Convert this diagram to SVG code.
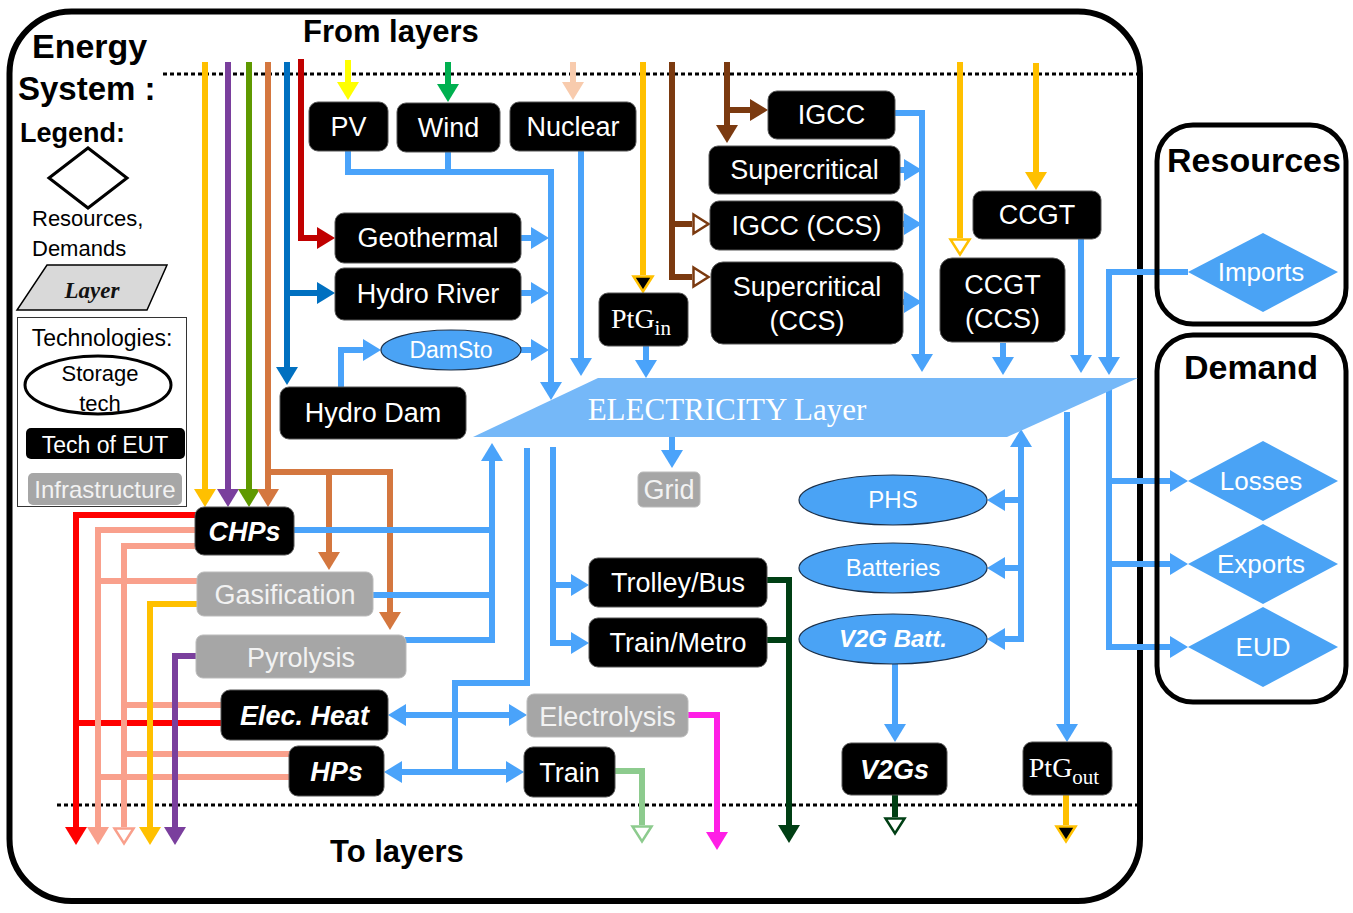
<svg xmlns="http://www.w3.org/2000/svg" width="1353" height="913" viewBox="0 0 1353 913">
<style>
text{font-family:"Liberation Sans",Arial,sans-serif;}
.t{fill:#fff;font-size:27px;text-anchor:middle;}
.tb{fill:#fff;font-size:27px;text-anchor:middle;font-weight:bold;font-style:italic;}
.ts{fill:#fff;font-family:"Liberation Serif","Times New Roman",serif;font-size:28px;text-anchor:middle;}
.h{fill:#000;font-weight:bold;}
.eut{fill:#000;stroke:#555;stroke-width:1;}
.inf{fill:#a6a6a6;stroke:#bbb;stroke-width:1;}
.sto{fill:#4aa3f5;stroke:#1b2f48;stroke-width:1.2;}
.dia{fill:#4aa3f5;}
.c{fill:none;stroke-width:6;stroke-linejoin:miter;}
.blue{stroke:#4aa3fa;}
.dblue{stroke:#0070c0;}
.dred{stroke:#c00000;}
.red{stroke:#ff0000;}
.sal{stroke:#f9a08c;}
.org{stroke:#ffc000;}
.pur{stroke:#7a3f9d;}
.olv{stroke:#5f9900;}
.cop{stroke:#d4773f;}
.yel{stroke:#ffff00;}
.grn{stroke:#00b050;}
.pnk{stroke:#f8cbad;}
.brn{stroke:#7b3a10;}
.mag{stroke:#ff1ee6;}
.lgr{stroke:#8dcb8e;}
.dgr{stroke:#003f14;}
.dot{fill:none;stroke:#000;stroke-width:3;stroke-dasharray:4 3;}
</style>
<defs>
<marker id="m-blue" markerUnits="userSpaceOnUse" markerWidth="18" markerHeight="22" refX="0" refY="11" orient="auto-start-reverse" overflow="visible"><path d="M0,0 L18,11 L0,22 z" fill="#4aa3fa"/></marker>
<marker id="m-dblue" markerUnits="userSpaceOnUse" markerWidth="18" markerHeight="22" refX="0" refY="11" orient="auto" overflow="visible"><path d="M0,0 L18,11 L0,22 z" fill="#0070c0"/></marker>
<marker id="m-dred" markerUnits="userSpaceOnUse" markerWidth="18" markerHeight="22" refX="0" refY="11" orient="auto" overflow="visible"><path d="M0,0 L18,11 L0,22 z" fill="#c00000"/></marker>
<marker id="m-red" markerUnits="userSpaceOnUse" markerWidth="18" markerHeight="22" refX="0" refY="11" orient="auto" overflow="visible"><path d="M0,0 L18,11 L0,22 z" fill="#ff0000"/></marker>
<marker id="m-sal" markerUnits="userSpaceOnUse" markerWidth="18" markerHeight="22" refX="0" refY="11" orient="auto" overflow="visible"><path d="M0,0 L18,11 L0,22 z" fill="#f9a08c"/></marker>
<marker id="m-salo" markerUnits="userSpaceOnUse" markerWidth="18" markerHeight="22" refX="0" refY="11" orient="auto" overflow="visible"><path d="M1.5,1.5 L16.5,11 L1.5,20.5 z" fill="#fff" stroke="#f9a08c" stroke-width="2.5"/></marker>
<marker id="m-org" markerUnits="userSpaceOnUse" markerWidth="18" markerHeight="22" refX="0" refY="11" orient="auto" overflow="visible"><path d="M0,0 L18,11 L0,22 z" fill="#ffc000"/></marker>
<marker id="m-orgo" markerUnits="userSpaceOnUse" markerWidth="18" markerHeight="22" refX="0" refY="11" orient="auto" overflow="visible"><path d="M1.5,1.5 L16.5,11 L1.5,20.5 z" fill="#fff" stroke="#ffc000" stroke-width="2.5"/></marker>
<marker id="m-orgb" markerUnits="userSpaceOnUse" markerWidth="18" markerHeight="22" refX="0" refY="11" orient="auto" overflow="visible"><path d="M1.5,1.5 L16.5,11 L1.5,20.5 z" fill="#000" stroke="#ffc000" stroke-width="2.5"/></marker>
<marker id="m-pur" markerUnits="userSpaceOnUse" markerWidth="18" markerHeight="22" refX="0" refY="11" orient="auto" overflow="visible"><path d="M0,0 L18,11 L0,22 z" fill="#7a3f9d"/></marker>
<marker id="m-olv" markerUnits="userSpaceOnUse" markerWidth="18" markerHeight="22" refX="0" refY="11" orient="auto" overflow="visible"><path d="M0,0 L18,11 L0,22 z" fill="#5f9900"/></marker>
<marker id="m-cop" markerUnits="userSpaceOnUse" markerWidth="18" markerHeight="22" refX="0" refY="11" orient="auto" overflow="visible"><path d="M0,0 L18,11 L0,22 z" fill="#d4773f"/></marker>
<marker id="m-yel" markerUnits="userSpaceOnUse" markerWidth="18" markerHeight="22" refX="0" refY="11" orient="auto" overflow="visible"><path d="M0,0 L18,11 L0,22 z" fill="#ffff00"/></marker>
<marker id="m-grn" markerUnits="userSpaceOnUse" markerWidth="18" markerHeight="22" refX="0" refY="11" orient="auto" overflow="visible"><path d="M0,0 L18,11 L0,22 z" fill="#00b050"/></marker>
<marker id="m-pnk" markerUnits="userSpaceOnUse" markerWidth="18" markerHeight="22" refX="0" refY="11" orient="auto" overflow="visible"><path d="M0,0 L18,11 L0,22 z" fill="#f8cbad"/></marker>
<marker id="m-brn" markerUnits="userSpaceOnUse" markerWidth="18" markerHeight="22" refX="0" refY="11" orient="auto" overflow="visible"><path d="M0,0 L18,11 L0,22 z" fill="#7b3a10"/></marker>
<marker id="m-brno" markerUnits="userSpaceOnUse" markerWidth="18" markerHeight="22" refX="0" refY="11" orient="auto" overflow="visible"><path d="M1.5,1.5 L16.5,11 L1.5,20.5 z" fill="#fff" stroke="#7b3a10" stroke-width="2.5"/></marker>
<marker id="m-mag" markerUnits="userSpaceOnUse" markerWidth="18" markerHeight="22" refX="0" refY="11" orient="auto" overflow="visible"><path d="M0,0 L18,11 L0,22 z" fill="#ff1ee6"/></marker>
<marker id="m-lgro" markerUnits="userSpaceOnUse" markerWidth="18" markerHeight="22" refX="0" refY="11" orient="auto" overflow="visible"><path d="M1.5,1.5 L16.5,11 L1.5,20.5 z" fill="#fff" stroke="#8dcb8e" stroke-width="2.5"/></marker>
<marker id="m-dgr" markerUnits="userSpaceOnUse" markerWidth="18" markerHeight="22" refX="0" refY="11" orient="auto" overflow="visible"><path d="M0,0 L18,11 L0,22 z" fill="#003f14"/></marker>
<marker id="m-dgro" markerUnits="userSpaceOnUse" markerWidth="18" markerHeight="22" refX="0" refY="11" orient="auto" overflow="visible"><path d="M1.5,1.5 L16.5,11 L1.5,20.5 z" fill="#fff" stroke="#003f14" stroke-width="2.5"/></marker>
</defs>
<rect width="1353" height="913" fill="#fff"/>

<g id="frame">
<rect x="9.5" y="11.5" width="1130.5" height="889.5" rx="62" fill="none" stroke="#000" stroke-width="6"/>
<line class="dot" x1="163" y1="74" x2="1138" y2="74"/>
<line class="dot" x1="57" y1="805" x2="1138" y2="805"/>
<text class="h" x="32" y="58" font-size="34">Energy</text>
<text class="h" x="18" y="100" font-size="33">System :</text>
<text class="h" x="303" y="42" font-size="31">From layers</text>
<text class="h" x="330" y="862" font-size="31">To layers</text>
</g>

<g id="legend">
<text class="h" x="20" y="142" font-size="27">Legend:</text>
<polygon points="49,178 88,148 127,178 88,208" fill="#fff" stroke="#000" stroke-width="3"/>
<text x="32" y="226" font-size="22" fill="#000">Resources,</text>
<text x="32" y="256" font-size="22" fill="#000">Demands</text>
<polygon points="47,265 167,265 147,310 17,310" fill="#d9d9d9" stroke="#000" stroke-width="1.5"/>
<text x="92" y="298" font-size="23" font-weight="bold" font-style="italic" text-anchor="middle" fill="#111" style="font-family:'Liberation Serif','Times New Roman',serif">Layer</text>
<rect x="17.5" y="317.5" width="169" height="189" fill="#fff" stroke="#333" stroke-width="1"/>
<text x="102" y="346" font-size="23" text-anchor="middle" fill="#000">Technologies:</text>
<ellipse cx="98" cy="385" rx="73" ry="29" fill="#fff" stroke="#000" stroke-width="3"/>
<text x="100" y="381" font-size="22" text-anchor="middle" fill="#000">Storage</text>
<text x="100" y="411" font-size="22" text-anchor="middle" fill="#000">tech</text>
<rect x="26" y="428" width="159" height="31" rx="5" fill="#000"/>
<text x="105" y="453" font-size="23" text-anchor="middle" fill="#fff">Tech of EUT</text>
<rect x="28" y="473" width="154" height="32" rx="5" fill="#a6a6a6"/>
<text x="105" y="498" font-size="24" text-anchor="middle" fill="#f2f2f2">Infrastructure</text>
</g>

<g id="connectors">
<path class="c org" d="M205,62 V489" marker-end="url(#m-org)"/>
<path class="c pur" d="M228,62 V489" marker-end="url(#m-pur)"/>
<path class="c olv" d="M249,62 V489" marker-end="url(#m-olv)"/>
<path class="c cop" d="M268,62 V489" marker-end="url(#m-cop)"/>
<path class="c cop" d="M265,472 H390 V612" marker-end="url(#m-cop)"/>
<path class="c cop" d="M329,472 V552" marker-end="url(#m-cop)"/>
<path class="c dblue" d="M287,62 V367" marker-end="url(#m-dblue)"/>
<path class="c dblue" d="M287,293 H317" marker-end="url(#m-dblue)"/>
<path class="c dred" d="M301,59 V238 H317" marker-end="url(#m-dred)"/>
<path class="c yel" d="M348,60 V82" marker-end="url(#m-yel)"/>
<path class="c grn" d="M448,62 V84" marker-end="url(#m-grn)"/>
<path class="c pnk" d="M573,62 V82" marker-end="url(#m-pnk)"/>
<path class="c org" d="M643,62 V275" marker-end="url(#m-orgb)"/>
<path class="c brn" d="M672,62 V277 H692" marker-end="url(#m-brno)"/>
<path class="c brn" d="M672,224 H692" marker-end="url(#m-brno)"/>
<path class="c brn" d="M727,62 V125" marker-end="url(#m-brn)"/>
<path class="c brn" d="M727,110 H750" marker-end="url(#m-brn)"/>
<path class="c org" d="M960,62 V238" marker-end="url(#m-orgo)"/>
<path class="c org" d="M1036,63 V172" marker-end="url(#m-org)"/>
<path class="c blue" d="M348,151 V172 H551 V382" marker-end="url(#m-blue)"/>
<path class="c blue" d="M448,152 V172"/>
<path class="c blue" d="M520,238 H531" marker-end="url(#m-blue)"/>
<path class="c blue" d="M520,293 H531" marker-end="url(#m-blue)"/>
<path class="c blue" d="M521,350 H531" marker-end="url(#m-blue)"/>
<path class="c blue" d="M341,387 V350 H363" marker-end="url(#m-blue)"/>
<path class="c blue" d="M581,151 V358" marker-end="url(#m-blue)"/>
<path class="c blue" d="M646,346 V360" marker-end="url(#m-blue)"/>
<path class="c blue" d="M894,113 H922 V354" marker-end="url(#m-blue)"/>
<path class="c blue" d="M899,170 H904" marker-end="url(#m-blue)"/>
<path class="c blue" d="M902,224 H904" marker-end="url(#m-blue)"/>
<path class="c blue" d="M902,302 H904" marker-end="url(#m-blue)"/>
<path class="c blue" d="M1003,343 V357" marker-end="url(#m-blue)"/>
<path class="c blue" d="M1081,239 V355" marker-end="url(#m-blue)"/>
<path class="c blue" d="M1188,272 H1109 V357" marker-end="url(#m-blue)"/>
<path class="c blue" d="M1109,382 V647 H1170" marker-end="url(#m-blue)"/>
<path class="c blue" d="M1109,481 H1170" marker-end="url(#m-blue)"/>
<path class="c blue" d="M1109,564 H1170" marker-end="url(#m-blue)"/>
<path class="c blue" d="M1067,412 V724" marker-end="url(#m-blue)"/>
<path class="c blue" d="M1021,642 V447" marker-end="url(#m-blue)"/>
<path class="c blue" d="M1021,500 H1005" marker-end="url(#m-blue)"/>
<path class="c blue" d="M1021,568 H1005" marker-end="url(#m-blue)"/>
<path class="c blue" d="M1024,639 H1005" marker-end="url(#m-blue)"/>
<path class="c blue" d="M672,437 V450" marker-end="url(#m-blue)"/>
<path class="c blue" d="M492,643 V461" marker-end="url(#m-blue)"/>
<path class="c blue" d="M293,530 H492"/>
<path class="c blue" d="M372,595 H492"/>
<path class="c blue" d="M405,640 H495"/>
<path class="c blue" d="M527,448 V683 H455 V775"/>
<path class="c blue" d="M406,715 H509" marker-start="url(#m-blue)" marker-end="url(#m-blue)"/>
<path class="c blue" d="M402,772 H506" marker-start="url(#m-blue)" marker-end="url(#m-blue)"/>
<path class="c blue" d="M553,447 V643 H571" marker-end="url(#m-blue)"/>
<path class="c blue" d="M553,585 H571" marker-end="url(#m-blue)"/>
<path class="c blue" d="M895,664 V724" marker-end="url(#m-blue)"/>
<path class="c red" d="M197,515 H76 V827" marker-end="url(#m-red)"/>
<path class="c red" d="M223,723 H76"/>
<path class="c sal" d="M197,530 H98 V827" marker-end="url(#m-sal)"/>
<path class="c sal" d="M197,546 H124 V827" marker-end="url(#m-salo)"/>
<path class="c sal" d="M198,581 H98"/>
<path class="c sal" d="M223,705 H124"/>
<path class="c sal" d="M291,754 H124"/>
<path class="c sal" d="M291,777 H98"/>
<path class="c org" d="M199,604 H150 V827" marker-end="url(#m-org)"/>
<path class="c pur" d="M198,656 H175 V827" marker-end="url(#m-pur)"/>
<path class="c mag" d="M687,715 H717 V832" marker-end="url(#m-mag)"/>
<path class="c lgr" d="M614,771 H642 V825" marker-end="url(#m-lgro)"/>
<path class="c dgr" d="M766,580 H789 V825" marker-end="url(#m-dgr)"/>
<path class="c dgr" d="M766,640 H789"/>
<path class="c dgr" d="M895,794 V817" marker-end="url(#m-dgro)"/>
<path class="c org" d="M1066,794 V825" marker-end="url(#m-orgb)"/>
</g>

<g id="electricity-layer">
<polygon points="598,378 1138,378 1007,437 473,437" fill="#75b8f8"/>
<text x="727" y="420" class="ts" style="font-size:31px">ELECTRICITY Layer</text>
</g>

<g id="pv"><rect class="eut" x="309" y="102" width="79" height="49" rx="9"/><text class="t" x="348.5" y="136">PV</text></g>
<g id="wind"><rect class="eut" x="397" y="103" width="103" height="49" rx="9"/><text class="t" x="448.5" y="137">Wind</text></g>
<g id="nuclear"><rect class="eut" x="510" y="102" width="126" height="49" rx="9"/><text class="t" x="573" y="136">Nuclear</text></g>
<g id="geothermal"><rect class="eut" x="335" y="213" width="186" height="50" rx="9"/><text class="t" x="428" y="247">Geothermal</text></g>
<g id="hydro-river"><rect class="eut" x="335" y="268" width="186" height="52" rx="9"/><text class="t" x="428" y="303">Hydro River</text></g>
<g id="damsto"><ellipse class="sto" cx="451" cy="350" rx="70" ry="20"/><text x="451" y="358" font-size="23" fill="#fff" text-anchor="middle">DamSto</text></g>
<g id="hydro-dam"><rect class="eut" x="280" y="387" width="186" height="52" rx="9"/><text class="t" x="373" y="422">Hydro Dam</text></g>
<g id="ptg-in"><rect class="eut" x="599" y="293" width="89" height="53" rx="9"/><text class="ts" x="641" y="328">PtG<tspan font-size="21" dy="7">in</tspan></text></g>
<g id="igcc"><rect class="eut" x="768" y="91" width="127" height="48" rx="9"/><text class="t" x="831.5" y="124">IGCC</text></g>
<g id="supercritical"><rect class="eut" x="709" y="146" width="191" height="48" rx="9"/><text class="t" x="804.5" y="179">Supercritical</text></g>
<g id="igcc-ccs"><rect class="eut" x="710" y="201" width="193" height="49" rx="9"/><text class="t" x="806.5" y="235">IGCC (CCS)</text></g>
<g id="supercritical-ccs"><rect class="eut" x="711" y="262" width="192" height="82" rx="12"/><text class="t" x="807" y="296">Supercritical</text><text class="t" x="807" y="330">(CCS)</text></g>
<g id="ccgt"><rect class="eut" x="973" y="191" width="128" height="48" rx="9"/><text class="t" x="1037" y="224">CCGT</text></g>
<g id="ccgt-ccs"><rect class="eut" x="940" y="258" width="125" height="84" rx="12"/><text class="t" x="1002.5" y="294">CCGT</text><text class="t" x="1002.5" y="328">(CCS)</text></g>
<g id="grid"><rect class="inf" x="638" y="472" width="62" height="35" rx="5"/><text x="669" y="499" font-size="27" fill="#f2f2f2" text-anchor="middle">Grid</text></g>
<g id="phs"><ellipse class="sto" cx="893" cy="500" rx="94" ry="25"/><text x="893" y="508" font-size="24" fill="#fff" text-anchor="middle">PHS</text></g>
<g id="batteries"><ellipse class="sto" cx="893" cy="568" rx="94" ry="25"/><text x="893" y="576" font-size="24" fill="#fff" text-anchor="middle">Batteries</text></g>
<g id="v2g-batt"><ellipse class="sto" cx="893" cy="639" rx="94" ry="25"/><text x="893" y="647" font-size="24" fill="#fff" text-anchor="middle" font-weight="bold" font-style="italic">V2G Batt.</text></g>
<g id="trolley-bus"><rect class="eut" x="589" y="558" width="178" height="49" rx="9"/><text class="t" x="678" y="592">Trolley/Bus</text></g>
<g id="train-metro"><rect class="eut" x="589" y="618" width="178" height="49" rx="9"/><text class="t" x="678" y="652">Train/Metro</text></g>
<g id="v2gs"><rect class="eut" x="842" y="743" width="105" height="52" rx="9"/><text class="tb" x="894.5" y="779">V2Gs</text></g>
<g id="ptg-out"><rect class="eut" x="1023" y="742" width="89" height="53" rx="9"/><text class="ts" x="1064" y="777">PtG<tspan font-size="21" dy="7">out</tspan></text></g>
<g id="chps"><rect class="eut" x="195" y="507" width="99" height="48" rx="9"/><text class="tb" x="244.5" y="541">CHPs</text></g>
<g id="gasification"><rect class="inf" x="197" y="572" width="176" height="44" rx="7"/><text x="285" y="604" font-size="27" fill="#f2f2f2" text-anchor="middle">Gasification</text></g>
<g id="pyrolysis"><rect class="inf" x="196" y="635" width="210" height="43" rx="7"/><text x="301" y="667" font-size="27" fill="#f2f2f2" text-anchor="middle">Pyrolysis</text></g>
<g id="elec-heat"><rect class="eut" x="221" y="690" width="167" height="50" rx="9"/><text class="tb" x="304.5" y="725">Elec. Heat</text></g>
<g id="hps"><rect class="eut" x="289" y="746" width="95" height="50" rx="9"/><text class="tb" x="336.5" y="781">HPs</text></g>
<g id="electrolysis"><rect class="inf" x="527" y="694" width="161" height="43" rx="7"/><text x="607.5" y="726" font-size="27" fill="#f2f2f2" text-anchor="middle">Electrolysis</text></g>
<g id="train"><rect class="eut" x="524" y="747" width="91" height="50" rx="9"/><text class="t" x="569.5" y="782">Train</text></g>

<g id="resources">
<rect x="1157" y="125" width="189" height="199" rx="36" fill="none" stroke="#000" stroke-width="5"/>
<text class="h" x="1254" y="172" font-size="34" text-anchor="middle">Resources</text>
</g>
<g id="imports"><polygon class="dia" points="1188,272 1263,233 1338,272 1263,312"/><text x="1261" y="281" font-size="26" fill="#fff" text-anchor="middle">Imports</text></g>
<g id="demand">
<rect x="1157" y="335" width="189" height="367" rx="36" fill="none" stroke="#000" stroke-width="5"/>
<text class="h" x="1251" y="379" font-size="34" text-anchor="middle">Demand</text>
</g>
<g id="losses"><polygon class="dia" points="1188,481 1263,441 1338,481 1263,521"/><text x="1261" y="490" font-size="26" fill="#fff" text-anchor="middle">Losses</text></g>
<g id="exports"><polygon class="dia" points="1188,564 1263,524 1338,564 1263,604"/><text x="1261" y="573" font-size="26" fill="#fff" text-anchor="middle">Exports</text></g>
<g id="eud"><polygon class="dia" points="1188,647 1263,607 1338,647 1263,687"/><text x="1263" y="656" font-size="26" fill="#fff" text-anchor="middle">EUD</text></g>
</svg>
